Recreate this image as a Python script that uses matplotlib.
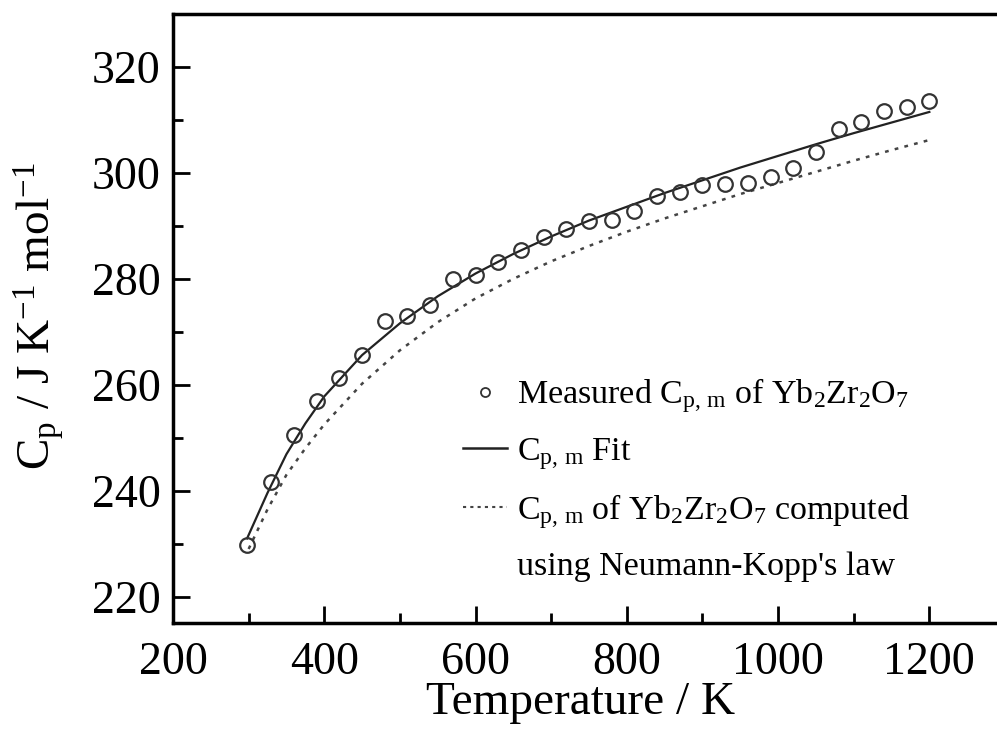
import numpy as np
import matplotlib.pyplot as plt
from matplotlib.lines import Line2D

plt.rcParams['font.family'] = 'Liberation Serif'
plt.rcParams['mathtext.fontset'] = 'custom'
plt.rcParams['mathtext.rm'] = 'Liberation Serif'
plt.rcParams['mathtext.it'] = 'Liberation Serif:italic'

# measured molar heat capacity of Yb2Zr2O7
T_meas = [298, 330, 360, 390, 420, 450, 480, 510, 540, 570, 600, 630, 660,
          690, 720, 750, 780, 810, 840, 870, 900, 930, 960, 990, 1020, 1050,
          1080, 1110, 1140, 1170, 1200]
cp_meas = [229.8, 241.6, 250.6, 257.0, 261.2, 265.7, 272.0, 272.9, 275.0,
           280.0, 280.7, 283.1, 285.4, 287.9, 289.4, 290.9, 291.1, 292.8,
           295.6, 296.4, 297.7, 297.9, 298.1, 299.2, 300.9, 303.9, 308.3,
           309.6, 311.7, 312.4, 313.6]

# fitted curve
T_fit = [298, 325, 350, 375, 400, 450, 500, 550, 600, 650, 700, 750, 800,
         850, 900, 950, 1000, 1050, 1100, 1150, 1200]
cp_fit = [231.0, 239.6, 246.9, 252.7, 257.8, 265.6, 271.6, 276.7, 281.0,
          284.7, 288.0, 291.0, 293.6, 296.2, 298.6, 301.0, 303.2, 305.4,
          307.5, 309.5, 311.5]

# Neumann-Kopp estimate
T_nk = [300, 325, 350, 375, 400, 450, 500, 550, 600, 650, 700, 750, 800,
        850, 900, 950, 1000, 1050, 1100, 1150, 1200]
cp_nk = [229.0, 236.5, 243.0, 248.0, 252.5, 260.2, 266.5, 271.8, 276.3,
         280.0, 283.3, 286.2, 288.9, 291.4, 293.7, 296.0, 298.1, 300.2,
         302.3, 304.3, 306.2]

fig = plt.figure(figsize=(9.97, 7.34), dpi=100)
ax = fig.add_axes([0.1735, 0.151, 0.8345, 0.830])

ax.plot(T_fit, cp_fit, '-', color='#222222', lw=1.6)
ax.plot(T_nk, cp_nk, color='#444444', lw=1.8, linestyle=(0, (1.5, 2.5)))
ax.plot(T_meas, cp_meas, 'o', mfc='none', mec='#333333', ms=10.5, mew=1.6)

ax.set_xlim(200, 1300)
ax.set_ylim(215, 330)
ax.set_xticks([200, 400, 600, 800, 1000, 1200])
ax.set_xticks([300, 500, 700, 900, 1100], minor=True)
ax.set_yticks([220, 240, 260, 280, 300, 320])
ax.set_yticks([230, 250, 270, 290, 310], minor=True)

ax.tick_params(which='both', direction='in', width=2, labelsize=33)
ax.tick_params(which='major', length=12)
ax.tick_params(which='minor', length=7)
ax.tick_params(axis='x', pad=13)
ax.tick_params(axis='y', pad=9)
for s in ax.spines.values():
    s.set_linewidth(2.5)

ax.set_xlabel('Temperature / K', fontsize=34)
ax.xaxis.set_label_coords(0.49, -0.095)
ax.set_ylabel(r'C$_{\rm p}$ / J K$^{-1}$ mol$^{-1}$', fontsize=34)
ax.yaxis.set_label_coords(-0.128, 0.505)

handles = [
    Line2D([], [], ls='none', marker='o', mfc='none', mec='#333333', ms=6.5, mew=1.3),
    Line2D([], [], color='#222222', lw=1.8),
    Line2D([], [], color='#444444', lw=1.5, linestyle=(0, (1.5, 2))),
    Line2D([], [], ls='none'),
]
labels = [
    r'Measured C$_{\rm p,\,m}$ of Yb$_2$Zr$_2$O$_7$',
    r'C$_{\rm p,\,m}$ Fit',
    r'C$_{\rm p,\,m}$ of Yb$_2$Zr$_2$O$_7$ computed',
    "using Neumann-Kopp's law",
]
ax.legend(handles, labels, loc='upper left', bbox_to_anchor=(0.349, 0.405),
          frameon=False, fontsize=24.5, handlelength=1.27, handletextpad=0.3,
          labelspacing=0.6, borderaxespad=0, borderpad=0)

fig.savefig('out.png', dpi=100)
